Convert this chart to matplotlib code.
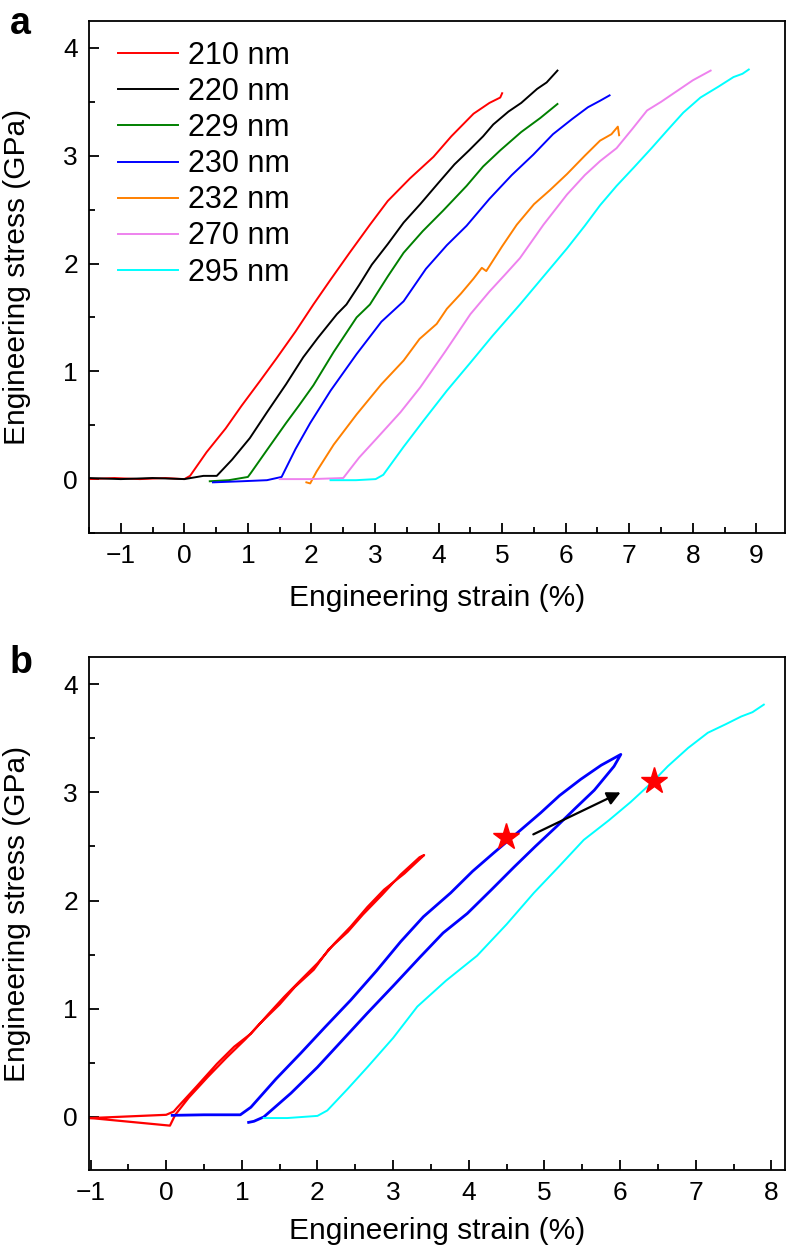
import matplotlib
matplotlib.use("Agg")
import matplotlib.pyplot as plt
from matplotlib.ticker import MultipleLocator

plt.rcParams['font.family'] = ['Liberation Sans', 'DejaVu Sans']

# ---------------------------------------------------------------- panel a data
labels_a = ['210 nm', '220 nm', '229 nm', '230 nm', '232 nm', '270 nm', '295 nm']
colors_a = ['#ff0000', '#000000', '#008000', '#0000ff', '#ff8000', '#ee82ee', '#00ffff']

red_a_x = [-1.5, -1.1, -0.7, -0.3, 0.0, 0.09, 0.35, 0.65, 0.9, 1.19, 1.45, 1.75, 2.03, 2.3, 2.6,
           2.92, 3.2, 3.55, 3.92, 4.2, 4.55, 4.8, 4.97, 5.0]
red_a_y = [0.0, 0.01, 0.0, 0.01, 0.0, 0.03, 0.25, 0.47, 0.68, 0.91, 1.12, 1.37, 1.62, 1.85, 2.10,
           2.36, 2.58, 2.79, 2.99, 3.18, 3.39, 3.49, 3.54, 3.58]

black_a_x = [-1.5, -1.0, -0.5, 0.0, 0.3, 0.51, 0.75, 1.03, 1.3, 1.6, 1.87, 2.1, 2.4, 2.55, 2.75,
             2.95, 3.2, 3.45, 3.71, 4.0, 4.25, 4.48, 4.7, 4.86, 5.1, 5.3, 5.55, 5.7, 5.87]
black_a_y = [0.01, 0.0, 0.01, 0.0, 0.03, 0.03, 0.18, 0.38, 0.62, 0.88, 1.13, 1.31, 1.53, 1.62, 1.80,
             1.99, 2.18, 2.38, 2.55, 2.75, 2.92, 3.05, 3.18, 3.29, 3.41, 3.49, 3.62, 3.68, 3.79]

green_a_x = [0.4, 0.7, 1.0, 1.05, 1.3, 1.6, 1.8, 2.03, 2.35, 2.71, 2.92, 3.2, 3.45, 3.75, 4.07,
             4.44, 4.7, 4.97, 5.3, 5.6, 5.87]
green_a_y = [-0.02, -0.01, 0.02, 0.06, 0.27, 0.52, 0.68, 0.87, 1.18, 1.50, 1.62, 1.88, 2.10, 2.30, 2.49,
             2.72, 2.90, 3.05, 3.22, 3.35, 3.48]

blue_a_x = [0.45, 0.9, 1.3, 1.53, 1.75, 1.98, 2.3, 2.71, 3.1, 3.45, 3.8, 4.13, 4.44, 4.8, 5.15,
            5.49, 5.8, 6.1, 6.35, 6.54, 6.69]
blue_a_y = [-0.03, -0.02, -0.01, 0.02, 0.28, 0.52, 0.82, 1.16, 1.46, 1.65, 1.95, 2.17, 2.35, 2.60, 2.82,
            3.01, 3.20, 3.34, 3.45, 3.51, 3.56]

orange_a_x = [1.92, 1.98, 2.08, 2.35, 2.71, 3.1, 3.45, 3.7, 3.97, 4.13, 4.35, 4.55, 4.68, 4.75, 5.0,
              5.23, 5.5, 5.75, 6.02, 6.3, 6.54, 6.72, 6.82, 6.84]
orange_a_y = [-0.03, -0.04, 0.07, 0.32, 0.60, 0.88, 1.10, 1.30, 1.44, 1.58, 1.72, 1.86, 1.96, 1.93, 2.16,
              2.36, 2.55, 2.68, 2.83, 3.00, 3.14, 3.20, 3.27, 3.19]

pink_a_x = [1.5, 2.0, 2.5, 2.75, 3.03, 3.4, 3.71, 4.1, 4.5, 4.8, 5.05, 5.28, 5.65, 6.02, 6.3,
            6.54, 6.8, 7.05, 7.28, 7.5, 7.75, 8.0, 8.28]
pink_a_y = [0.0, 0.0, 0.01, 0.20, 0.38, 0.62, 0.85, 1.18, 1.53, 1.74, 1.90, 2.05, 2.36, 2.64, 2.82,
            2.95, 3.07, 3.25, 3.42, 3.50, 3.60, 3.70, 3.79]

cyan_a_x = [2.3, 2.7, 3.01, 3.13, 3.45, 3.76, 4.13, 4.5, 4.85, 5.28, 5.65, 6.02, 6.3, 6.54, 6.8,
            7.07, 7.35, 7.59, 7.85, 8.12, 8.4, 8.64, 8.78, 8.88]
cyan_a_y = [-0.01, -0.01, 0.0, 0.04, 0.30, 0.54, 0.82, 1.08, 1.33, 1.62, 1.88, 2.14, 2.35, 2.54, 2.72,
            2.89, 3.07, 3.23, 3.40, 3.54, 3.64, 3.73, 3.76, 3.80]

# ---------------------------------------------------------------- panel b data
red_b_x = [-1.0, 0.0, 0.1, 0.15, 0.4, 0.67, 0.9, 1.12, 1.35, 1.56, 1.8, 2.0, 2.22, 2.44, 2.66, 2.88,
           3.15, 3.41, 3.35, 3.1, 2.85, 2.6, 2.4, 2.15, 1.95, 1.7, 1.5, 1.25, 1.05, 0.8, 0.55, 0.3,
           0.12, 0.05, -1.0]
red_b_y = [-0.01, 0.02, 0.05, 0.09, 0.28, 0.49, 0.65, 0.77, 0.95, 1.11, 1.28, 1.42, 1.60, 1.76, 1.94, 2.10,
           2.25, 2.42, 2.40, 2.24, 2.05, 1.87, 1.71, 1.55, 1.36, 1.20, 1.04, 0.87, 0.72, 0.55, 0.37, 0.18,
           0.02, -0.08, -0.01]

blue_b_x = [0.08, 0.5, 0.98, 1.12, 1.45, 1.78, 2.1, 2.44, 2.78, 3.1, 3.4, 3.76, 4.05, 4.33, 4.65,
            4.95, 5.2, 5.48, 5.75, 6.01, 5.92, 5.66, 5.42, 5.17, 4.88, 4.6, 4.3, 3.98, 3.66, 3.36,
            3.0, 2.66, 2.33, 2.0, 1.65, 1.29, 1.16, 1.09]
blue_b_y = [0.015, 0.02, 0.02, 0.09, 0.35, 0.59, 0.83, 1.08, 1.35, 1.62, 1.85, 2.07, 2.27, 2.44, 2.63,
            2.81, 2.97, 3.12, 3.25, 3.35, 3.24, 3.02, 2.86, 2.69, 2.50, 2.31, 2.10, 1.88, 1.70, 1.48,
            1.21, 0.96, 0.71, 0.46, 0.22, 0.0, -0.04, -0.05]

cyan_b_x = [1.29, 1.6, 2.0, 2.13, 2.4, 2.66, 3.0, 3.32, 3.7, 4.11, 4.5, 4.86, 5.2, 5.52, 5.85,
            6.14, 6.45, 6.63, 6.9, 7.16, 7.4, 7.6, 7.75, 7.9]
cyan_b_y = [-0.01, -0.01, 0.01, 0.06, 0.26, 0.46, 0.73, 1.02, 1.26, 1.49, 1.78, 2.07, 2.32, 2.56, 2.74,
            2.91, 3.11, 3.24, 3.41, 3.55, 3.63, 3.70, 3.74, 3.81]

star_x = [4.49, 6.45]
star_y = [2.59, 3.10]
arrow_start = (4.82, 2.60)
arrow_end = (6.04, 3.01)

# ---------------------------------------------------------------- figure
fig = plt.figure(figsize=(7.88, 12.55), dpi=100)
ax_a = fig.add_axes([89 / 788, 1 - 533 / 1255, 696 / 788, 512 / 1255])
ax_b = fig.add_axes([89 / 788, 1 - 1170 / 1255, 696 / 788, 513 / 1255])

series_a = [(red_a_x, red_a_y), (black_a_x, black_a_y), (green_a_x, green_a_y), (blue_a_x, blue_a_y),
            (orange_a_x, orange_a_y), (pink_a_x, pink_a_y), (cyan_a_x, cyan_a_y)]
for (xs, ys), c, lab in zip(series_a, colors_a, labels_a):
    ax_a.plot(xs, ys, color=c, lw=1.4, label=lab)

ax_b.plot(red_b_x, red_b_y, color='#ff0000', lw=1.6)
ax_b.plot(blue_b_x, blue_b_y, color='#0000ff', lw=2.0)
ax_b.plot(cyan_b_x, cyan_b_y, color='#00ffff', lw=1.4)
ax_b.plot(star_x, star_y, ls='none', marker='*', ms=20, color='#ff0000', zorder=5)
ax_b.annotate('', xy=arrow_end, xytext=arrow_start,
              arrowprops=dict(arrowstyle='-|>', color='k', lw=1.6, mutation_scale=20))

leg = ax_a.legend(loc='upper left', bbox_to_anchor=(0.024, 0.985), frameon=False, fontsize=22,
                  handlelength=1.95, handletextpad=0.35, labelspacing=0.2, borderaxespad=0)

ax_a.set_xlim(-1.5, 9.45)
ax_a.set_ylim(-0.5, 4.25)
ax_b.set_xlim(-1.02, 8.18)
ax_b.set_ylim(-0.49, 4.25)

for ax in (ax_a, ax_b):
    ax.xaxis.set_major_locator(MultipleLocator(1))
    ax.xaxis.set_minor_locator(MultipleLocator(0.5))
    ax.yaxis.set_major_locator(MultipleLocator(1))
    ax.yaxis.set_minor_locator(MultipleLocator(0.5))
    ax.tick_params(which='both', direction='in', top=False, right=False, width=1.3)
    ax.tick_params(which='major', length=7, labelsize=19, pad=8)
    ax.tick_params(which='minor', length=4)
    for sp in ax.spines.values():
        sp.set_linewidth(1.3)
    ax.set_xlabel('Engineering strain (%)', fontsize=21.5)
    ax.set_ylabel('Engineering stress (GPa)', fontsize=21.5)
    ax.yaxis.set_label_coords(-0.083, 0.5)

ax_a.xaxis.set_label_coords(0.5, -0.1)
ax_b.xaxis.set_label_coords(0.5, -0.092)

fig.text(10 / 788, 1 - 24 / 1255, 'a', fontsize=27, fontweight='bold', va='center', ha='left')
fig.text(10 / 788, 1 - 663 / 1255, 'b', fontsize=27, fontweight='bold', va='center', ha='left')

fig.savefig('out.png', dpi=100)
